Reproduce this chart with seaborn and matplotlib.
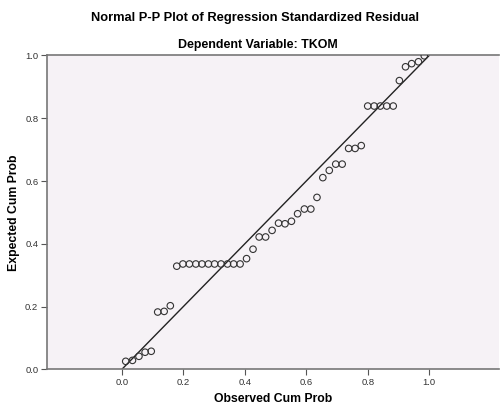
import numpy as np
import pandas as pd
import seaborn as sns
import matplotlib.pyplot as plt

# P-P PLOT DATA

observed = [0.013, 0.035, 0.056, 0.076, 0.096,
            0.117, 0.138, 0.158, 0.179,
            0.199, 0.220, 0.241, 0.261, 0.282, 0.302, 0.323, 0.344, 0.364, 0.385,
            0.406, 0.427, 0.447, 0.468, 0.489, 0.510, 0.531, 0.552, 0.572,
            0.594, 0.615, 0.635,
            0.654, 0.675, 0.696, 0.717, 0.738, 0.759, 0.779,
            0.800, 0.821, 0.841, 0.862, 0.883,
            0.903, 0.923, 0.943, 0.965, 0.984]
expected = [0.026, 0.029, 0.042, 0.055, 0.058,
            0.183, 0.185, 0.203, 0.329,
            0.336, 0.336, 0.336, 0.336, 0.336, 0.336, 0.336, 0.336, 0.336, 0.336,
            0.353, 0.383, 0.422, 0.422, 0.443, 0.466, 0.464, 0.472, 0.496,
            0.511, 0.511, 0.548,
            0.611, 0.634, 0.654, 0.654, 0.704, 0.704, 0.713,
            0.839, 0.839, 0.839, 0.839, 0.839,
            0.920, 0.964, 0.974, 0.980, 0.999]
ref_line = [0.0, 1.0]
x_ticks = [0.0, 0.2, 0.4, 0.6, 0.8, 1.0]
y_ticks = [0.0, 0.2, 0.4, 0.6, 0.8, 1.0]

df = pd.DataFrame({'observed': observed, 'expected': expected})

sns.set_style("white")
plt.rcParams['font.family'] = ['Liberation Sans', 'DejaVu Sans']

fig = plt.figure(figsize=(5, 4.05), dpi=100)
ax = fig.add_axes([0.0934, 0.0877, 0.9046, 0.7753])
ax.set_facecolor('#f6f2f6')

sns.lineplot(x=ref_line, y=ref_line, ax=ax, color='#222222', linewidth=1.0)
sns.scatterplot(data=df, x='observed', y='expected', ax=ax, s=22, marker='o',
                facecolor='none', edgecolor='#333333', linewidth=0.8, zorder=3)

ax.set_xlim(-0.244, 1.227)
ax.set_ylim(0, 1)
ax.set_xticks(x_ticks)
ax.set_yticks(y_ticks)
ax.set_xticklabels([f'{t:.1f}' for t in x_ticks])
ax.set_yticklabels([f'{t:.1f}' for t in y_ticks])
ax.tick_params(axis='both', direction='out', length=4, width=0.8, colors='#555555',
               labelsize=6.8, labelcolor='#333333', pad=2)
ax.tick_params(left=True, bottom=True)

for side in ['left', 'bottom', 'top']:
    ax.spines[side].set_color('#777777')
    ax.spines[side].set_linewidth(1.2)
ax.spines['right'].set_visible(False)

ax.set_xlabel('Observed Cum Prob', fontsize=8.8, fontweight='bold', color='black')
ax.set_ylabel('Expected Cum Prob', fontsize=8.8, fontweight='bold', color='black')
ax.xaxis.label.set_va('center')
ax.yaxis.label.set_va('center')
ax.xaxis.set_label_coords(0.5, -0.094)
ax.yaxis.set_label_coords(-0.072, 0.5)

fig.text(0.51, 0.955, 'Normal P-P Plot of Regression Standardized Residual',
         ha='center', va='center', fontsize=9.3, fontweight='bold', color='black')
fig.text(0.515, 0.888, 'Dependent Variable: TKOM',
         ha='center', va='center', fontsize=8.9, fontweight='bold', color='black')

fig.savefig('out.png', dpi=100, facecolor='white')
